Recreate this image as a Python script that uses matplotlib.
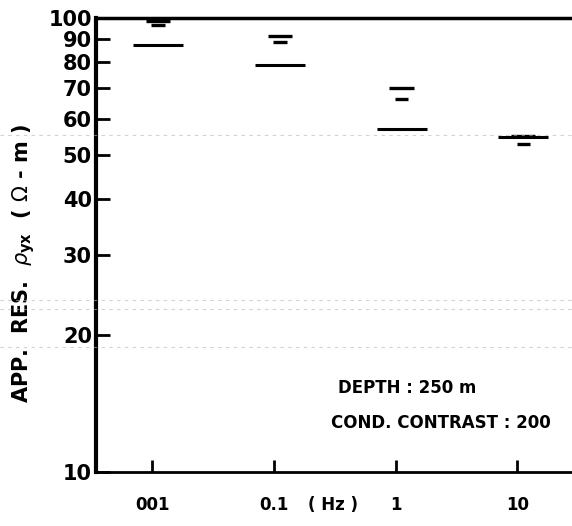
import numpy as np
import matplotlib
matplotlib.use("Agg")
import matplotlib.pyplot as plt

# ---- data ----
freqs = [0.01, 0.1, 1, 10]
xtick_labels = ["001", "0.1", "1", "10"]
long_vals = [87.2, 78.8, 56.9, 54.6]
medium_vals = [98.5, 91.1, 70.2, 55.0]
short_vals = [96.5, 88.6, 66.3, 52.8]
yticks = [10, 20, 30, 40, 50, 60, 70, 80, 90, 100]
ytick_labels = ["10", "20", "30", "40", "50", "60", "70", "80", "90", "100"]

plt.rcParams['font.family'] = ['DejaVu Sans']

fig = plt.figure(figsize=(5.72, 5.26), dpi=100)
ax = fig.add_axes([0.168, 0.1027, 0.832, 0.8631])
ax.set_xscale('log')
ax.set_yscale('log')
ax.set_xlim(10 ** -2.46, 10 ** 1.45)
ax.set_ylim(10, 100)

shift = 10 ** 0.05
def seg(vals, halfdec, lw):
    for f, v in zip(freqs, vals):
        c = f * shift
        ax.plot([c * 10 ** -halfdec, c * 10 ** halfdec], [v, v],
                color='black', lw=lw, solid_capstyle='butt')

seg(long_vals, 0.205, 2.2)
seg(medium_vals, 0.10, 2.4)
seg(short_vals, 0.055, 2.4)

ax.spines['right'].set_visible(False)
ax.spines['left'].set_linewidth(3)
ax.spines['bottom'].set_linewidth(2)
ax.spines['top'].set_linewidth(2.5)

ax.yaxis.set_minor_locator(matplotlib.ticker.NullLocator())
ax.xaxis.set_minor_locator(matplotlib.ticker.NullLocator())
ax.set_yticks(yticks)
ax.set_yticklabels(ytick_labels, fontsize=15, fontweight='bold')
ax.set_xticks(freqs)
ax.set_xticklabels(xtick_labels, fontsize=12, fontweight='bold')
ax.tick_params(axis='y', direction='in', length=10, width=2, pad=3)
ax.tick_params(axis='x', direction='in', length=9, width=2, pad=17)

ax.text(10 ** -0.51, -0.073, "( Hz )", transform=ax.get_xaxis_transform(),
        ha='center', va='center', fontsize=12, fontweight='bold')

ax.set_ylabel(r"APP.  RES.  $\rho_{\mathbf{yx}}$  ( $\Omega$ - m )",
              fontsize=15, fontweight='bold', labelpad=3)
ax.yaxis.set_label_coords(-0.125, 0.46)

ax.text(0.508, 0.185, "DEPTH : 250 m", transform=ax.transAxes,
        fontsize=12, fontweight='bold', ha='left', va='center')
ax.text(0.494, 0.108, "COND. CONTRAST : 200", transform=ax.transAxes,
        fontsize=12, fontweight='bold', ha='left', va='center')

# faint scan streaks
for yy in [1 - 135 / 526, 1 - 300 / 526, 1 - 309 / 526, 1 - 347 / 526]:
    fig.add_artist(plt.Line2D([0, 1], [yy, yy], transform=fig.transFigure,
                              color='0.7', lw=0.8, ls=(0, (3, 4)), alpha=0.6))

fig.savefig("out.png", dpi=100)
